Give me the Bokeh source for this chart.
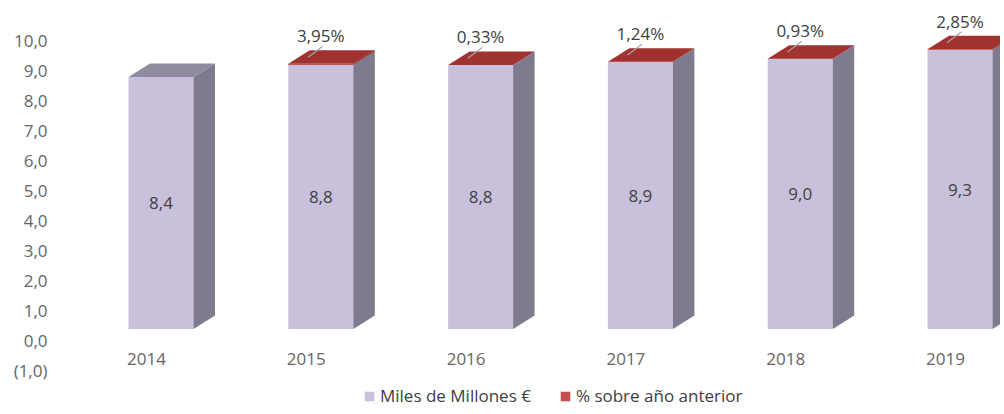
from bokeh.plotting import figure
from bokeh.models import Range1d, LinearAxis, FixedTicker, Legend, LegendItem
from bokeh.core.properties import value
from bokeh.embed import file_html
from bokeh.resources import INLINE

# ---- data ----
years = ["2014", "2015", "2016", "2017", "2018", "2019"]
miles_millones = [8.4, 8.8, 8.8, 8.9, 9.0, 9.3]
pct_anterior = [None, 3.95, 0.33, 1.24, 0.93, 2.85]
y_ticks = [-1, 0, 1, 2, 3, 4, 5, 6, 7, 8, 9, 10]
y_tick_labels = ["(1,0)", "0,0", "1,0", "2,0", "3,0", "4,0", "5,0", "6,0", "7,0", "8,0", "9,0", "10,0"]

# ---- styles / geometry ----
FONT = "Open Sans"
FS = "17px"
W_PX, H_PX = 1000, 410
LEFT = 60
PX_X = 159.8          # pixels per category
PX_Y = 30.0           # pixels per unit
ZERO_FY = 328.5       # pixel row of zero for bar fronts
AXIS_ZERO_FY = 340.0  # pixel row of 0,0 label (back wall)
FIRST_FX = 100.5      # first bar centre inside frame
LABEL_TOP_FY = 352.0  # top of category labels
BAR_W = 65 / PX_X
DX = 21.5 / PX_X
DY = 13.5 / PX_Y

FRONT = "#C9C0DB"
SIDE = "#7F7A8D"
TOP = "#908A9E"
RED_TOP = "#A0332F"
RED_FRONT = "#C0504D"
RED_SIDE = "#7A2A27"
TXT = "#404040"
TICK_TXT = "#666666"

frame_w = W_PX - LEFT
x_start = -FIRST_FX / PX_X
y_end = ZERO_FY / PX_Y
y_start = (ZERO_FY - H_PX) / PX_Y

p = figure(width=W_PX, height=H_PX, output_backend="svg", toolbar_location=None,
           x_range=Range1d(x_start, x_start + frame_w / PX_X),
           y_range=Range1d(y_start, y_end),
           x_axis_location=None, y_axis_location=None,
           min_border=0, min_border_left=LEFT)
p.outline_line_color = None
p.grid.visible = False
p.background_fill_color = "white"

# left axis on its own (back-wall) range
ax_end = AXIS_ZERO_FY / PX_Y
p.extra_y_ranges = {"wall": Range1d(ax_end - H_PX / PX_Y, ax_end)}
yax = LinearAxis(y_range_name="wall", ticker=FixedTicker(ticks=y_ticks),
                 major_label_overrides={t: l for t, l in zip(y_ticks, y_tick_labels)})
yax.axis_line_color = None
yax.major_tick_line_color = None
yax.minor_tick_line_color = None
yax.major_tick_out = 0
yax.major_label_standoff = 13
yax.major_label_text_font = FONT
yax.major_label_text_font_size = FS
yax.major_label_text_color = TICK_TXT
p.add_layout(yax, "left")

# category axis (labels sit slightly left of bar fronts)
idx = list(range(len(years)))
lab_shift = 14.5 / PX_X
p.extra_x_ranges = {"cats": Range1d(x_start + lab_shift, x_start + lab_shift + frame_w / PX_X)}
xax = LinearAxis(x_range_name="cats", ticker=FixedTicker(ticks=idx),
                 major_label_overrides={i: y for i, y in zip(idx, years)})
xax.fixed_location = (ZERO_FY - LABEL_TOP_FY) / PX_Y
xax.axis_line_color = None
xax.major_tick_line_color = None
xax.minor_tick_line_color = None
xax.major_tick_out = 0
xax.major_tick_in = 0
xax.major_label_standoff = 0
xax.major_label_text_font = FONT
xax.major_label_text_font_size = FS
xax.major_label_text_color = TICK_TXT
p.add_layout(xax, "below")

# ---- bars ----
pct_units = [(v or 0) / 100.0 for v in pct_anterior]
tops = [m + r for m, r in zip(miles_millones, pct_units)]

front = p.vbar(x=idx, bottom=0, top=miles_millones, width=BAR_W, fill_color=FRONT, line_color=None)
red = p.vbar(x=idx, bottom=miles_millones, top=tops, width=BAR_W, fill_color=RED_FRONT, line_color=None)

side_xs, side_ys, rside_xs, rside_ys = [], [], [], []
top_xs, top_ys, top_cols = [], [], []
for i, m, t, r in zip(idx, miles_millones, tops, pct_anterior):
    xr = i + BAR_W / 2
    xl = i - BAR_W / 2
    side_xs.append([xr, xr + DX, xr + DX, xr])
    side_ys.append([0, DY, m + DY, m])
    rside_xs.append([xr, xr + DX, xr + DX, xr])
    rside_ys.append([m, m + DY, t + DY, t])
    top_xs.append([xl, xl + DX, xr + DX, xr])
    top_ys.append([t, t + DY, t + DY, t])
    top_cols.append(RED_TOP if r is not None else TOP)

p.patches(side_xs, side_ys, fill_color=SIDE, line_color=None)
p.patches(rside_xs, rside_ys, fill_color=RED_SIDE, line_color=None)
p.patches(xs=top_xs, ys=top_ys, fill_color=top_cols, line_color=None)

# value labels at middle of fronts
mid = [m / 2 for m in miles_millones]
val_txt = [f"{m:.1f}".replace(".", ",") for m in miles_millones]
p.text(x=idx, y=mid, text=val_txt, text_align="center", text_baseline="middle",
       text_font=value(FONT), text_font_size=FS, text_color=TXT)

# percentage labels with leader lines
pi = [i for i, r in zip(idx, pct_anterior) if r is not None]
pt = [tops[i] for i in pi]
ptxt = [f"{pct_anterior[i]:.2f}".replace(".", ",") + "%" for i in pi]
p.text(x=pi, y=pt, text=ptxt, text_align="center", text_baseline="middle",
       y_offset=-28, text_font=value(FONT), text_font_size=FS, text_color=TXT)
p.segment(x0=[i + 0.01 for i in pi], y0=[t + 0.58 for t in pt],
          x1=[i - 0.08 for i in pi], y1=[t + 0.22 for t in pt],
          line_color="#A6A6A6", line_width=1.2)

# ---- legend ----
legend = Legend(items=[LegendItem(label="Miles de Millones €", renderers=[front]),
                       LegendItem(label="% sobre año anterior", renderers=[red])],
                orientation="horizontal", location=(303, 3),
                glyph_width=12, glyph_height=12, label_standoff=5, spacing=28,
                padding=0, margin=0, border_line_color=None, background_fill_alpha=0,
                label_text_font=FONT, label_text_font_size=FS, label_text_color=TXT,
                label_height=20)
p.add_layout(legend, "center")

open("out.html", "w").write(file_html(p, INLINE))
